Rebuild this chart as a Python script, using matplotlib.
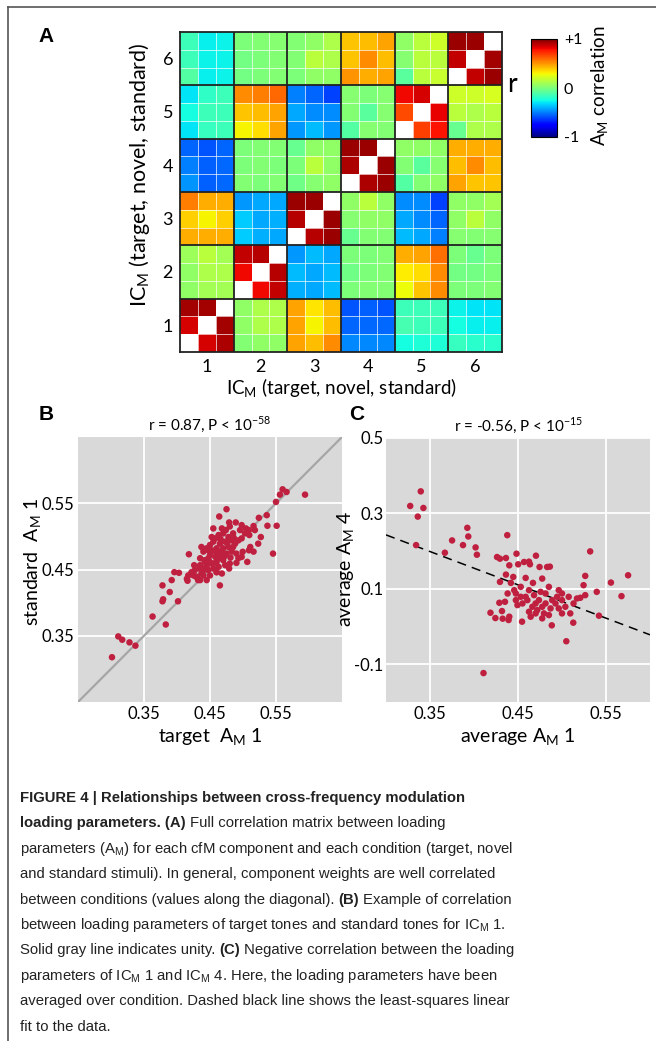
import numpy as np
import matplotlib
matplotlib.use('Agg')
import matplotlib.pyplot as plt
from matplotlib.lines import Line2D

plt.rcParams['font.family'] = ['Lato', 'DejaVu Sans']

nan = np.nan

# correlation matrix, rows listed top (IC 6) to bottom (IC 1), 3 conditions per IC
corr_rows = [
    [-0.15, -0.28, -0.27, 0.00, 0.02, 0.03, 0.02, 0.05, 0.12, 0.40, 0.42, 0.47, 0.05, 0.15, 0.20, 0.95, 0.95, nan],
    [-0.15, -0.27, -0.27, -0.02, 0.00, 0.02, 0.02, 0.15, 0.12, 0.40, 0.52, 0.42, 0.03, 0.15, 0.15, 0.88, nan, 0.93],
    [-0.10, -0.28, -0.27, -0.02, 0.00, 0.02, 0.00, 0.05, 0.05, 0.50, 0.45, 0.47, -0.08, 0.15, 0.18, nan, 0.88, 0.95],
    [-0.30, -0.18, -0.15, 0.52, 0.55, 0.60, -0.50, -0.55, -0.62, 0.03, 0.00, 0.03, 0.80, 0.85, nan, 0.20, 0.20, 0.22],
    [-0.25, -0.15, -0.15, 0.40, 0.42, 0.47, -0.42, -0.47, -0.47, 0.02, -0.08, 0.03, 0.66, nan, 0.82, 0.15, 0.12, 0.15],
    [-0.30, -0.17, -0.15, 0.30, 0.35, 0.47, -0.45, -0.38, -0.45, -0.10, 0.03, 0.02, nan, 0.68, 0.78, -0.05, 0.12, 0.12],
    [-0.55, -0.58, -0.55, 0.00, 0.02, 0.02, -0.05, 0.05, 0.05, 0.95, 0.95, nan, 0.05, 0.05, 0.05, 0.45, 0.45, 0.45],
    [-0.50, -0.56, -0.54, 0.00, 0.02, 0.00, 0.00, 0.15, 0.05, 0.92, nan, 0.95, 0.02, -0.08, 0.03, 0.42, 0.52, 0.42],
    [-0.46, -0.56, -0.54, 0.02, 0.00, 0.02, -0.03, 0.03, 0.05, nan, 0.92, 0.95, -0.10, 0.02, 0.05, 0.47, 0.40, 0.40],
    [0.55, 0.45, 0.45, -0.45, -0.42, -0.42, 0.95, 0.95, nan, 0.05, 0.15, 0.05, -0.47, -0.47, -0.62, 0.05, 0.05, 0.10],
    [0.38, 0.30, 0.38, -0.35, -0.42, -0.40, 0.90, nan, 0.95, 0.03, 0.05, 0.05, -0.42, -0.47, -0.55, 0.05, 0.15, 0.05],
    [0.45, 0.45, 0.45, -0.35, -0.40, -0.42, nan, 0.90, 0.95, -0.05, 0.02, 0.02, -0.38, -0.42, -0.50, 0.03, 0.02, 0.03],
    [0.08, 0.15, 0.10, 0.88, 0.90, nan, -0.45, -0.38, -0.42, 0.00, 0.00, 0.02, 0.45, 0.47, 0.58, 0.00, -0.05, 0.00],
    [0.05, 0.12, 0.12, 0.80, nan, 0.90, -0.38, -0.42, -0.38, -0.03, 0.00, 0.02, 0.32, 0.35, 0.52, -0.02, -0.02, 0.00],
    [0.05, 0.10, 0.10, nan, 0.80, 0.88, -0.40, -0.42, -0.38, 0.00, 0.02, 0.02, 0.28, 0.40, 0.52, 0.00, 0.00, 0.02],
    [0.93, 0.93, nan, 0.05, 0.12, 0.12, 0.47, 0.33, 0.42, -0.58, -0.56, -0.58, -0.15, -0.15, -0.15, -0.27, -0.30, -0.30],
    [0.85, nan, 0.93, 0.05, 0.12, 0.12, 0.47, 0.30, 0.42, -0.55, -0.54, -0.54, -0.13, -0.15, -0.15, -0.25, -0.28, -0.28],
    [nan, 0.85, 0.92, 0.02, 0.05, 0.05, 0.47, 0.42, 0.52, -0.48, -0.48, -0.48, -0.25, -0.22, -0.22, -0.17, -0.20, -0.20],
]
ic_labels = ['1', '2', '3', '4', '5', '6']

# panel B: target vs standard loading of IC 1
b_target = [0.3015, 0.311, 0.317, 0.328, 0.337, 0.363, 0.383, 0.378, 0.379, 0.4015,
            0.389, 0.378, 0.392, 0.396, 0.403, 0.418, 0.465, 0.415, 0.416, 0.422,
            0.425, 0.429, 0.432, 0.426, 0.434, 0.437, 0.440, 0.445, 0.442, 0.435,
            0.450, 0.455, 0.460, 0.468, 0.4475, 0.560, 0.566, 0.556, 0.550, 0.594,
            0.475, 0.464, 0.524, 0.536, 0.537, 0.551, 0.5455, 0.527, 0.523, 0.516,
            0.5065, 0.479, 0.489, 0.498, 0.5045, 0.509, 0.516, 0.518, 0.5095, 0.503,
            0.4955, 0.498, 0.511, 0.509, 0.4995, 0.490, 0.490, 0.480, 0.479, 0.417,
            0.458, 0.463, 0.470, 0.478, 0.483, 0.473, 0.465, 0.455, 0.450, 0.445,
            0.440, 0.4525, 0.460, 0.470, 0.478, 0.485, 0.483, 0.475, 0.465, 0.458,
            0.4475, 0.442, 0.4525, 0.460, 0.470, 0.473, 0.463, 0.455, 0.4475, 0.440,
            0.435, 0.450, 0.460, 0.440, 0.430, 0.427, 0.422, 0.435, 0.445, 0.437,
            0.4525, 0.493, 0.488, 0.468, 0.480, 0.485, 0.474, 0.493, 0.498, 0.455,
            0.468, 0.476, 0.462, 0.486, 0.472, 0.457, 0.481, 0.466, 0.449, 0.463]
b_standard = [0.3176, 0.349, 0.344, 0.340, 0.335, 0.379, 0.367, 0.402, 0.405, 0.402,
              0.416, 0.426, 0.434, 0.446, 0.445, 0.473, 0.426, 0.436, 0.433, 0.446,
              0.441, 0.439, 0.434, 0.4565, 0.4515, 0.444, 0.449, 0.455, 0.464, 0.467,
              0.472, 0.459, 0.446, 0.444, 0.479, 0.571, 0.567, 0.563, 0.552, 0.563,
              0.541, 0.530, 0.528, 0.532, 0.516, 0.516, 0.474, 0.499, 0.489, 0.477,
              0.4615, 0.521, 0.521, 0.517, 0.512, 0.5095, 0.5156, 0.5095, 0.502, 0.5045,
              0.5095, 0.497, 0.484, 0.479, 0.4767, 0.474, 0.460, 0.459, 0.4515, 0.441,
              0.497, 0.502, 0.5045, 0.499, 0.494, 0.492, 0.489, 0.492, 0.487, 0.482,
              0.477, 0.479, 0.482, 0.482, 0.484, 0.484, 0.477, 0.474, 0.472, 0.469,
              0.467, 0.4615, 0.459, 0.4615, 0.464, 0.4565, 0.454, 0.4515, 0.449, 0.4515,
              0.4565, 0.441, 0.446, 0.441, 0.439, 0.449, 0.444, 0.434, 0.434, 0.484,
              0.499, 0.494, 0.489, 0.512, 0.515, 0.5045, 0.5095, 0.467, 0.469, 0.512,
              0.478, 0.490, 0.476, 0.498, 0.470, 0.478, 0.468, 0.496, 0.462, 0.467]

# panel C: average loading IC 1 vs IC 4
c_avg1 = [0.3275, 0.3395, 0.3361, 0.3425, 0.3342, 0.3669, 0.3751, 0.3875, 0.3924, 0.3935,
          0.4018, 0.4033, 0.4378, 0.4262, 0.4295, 0.4363, 0.4483, 0.4704, 0.4862, 0.532,
          0.5264, 0.5245, 0.5264, 0.5208, 0.5395, 0.5556, 0.5676, 0.5751, 0.542, 0.5128,
          0.5049, 0.4884, 0.4546, 0.4108, 0.4187, 0.4243, 0.4318, 0.4326, 0.4401, 0.4393,
          0.4288, 0.4352, 0.4382, 0.4419, 0.4446, 0.4363, 0.4295, 0.4401, 0.4502, 0.4569,
          0.4625, 0.4636, 0.4745, 0.4831, 0.4775, 0.467, 0.4587, 0.4531, 0.4476, 0.4476,
          0.4551, 0.4625, 0.47, 0.4738, 0.4813, 0.4851, 0.4963, 0.50, 0.5038, 0.5094,
          0.5131, 0.5076, 0.4926, 0.487, 0.4795, 0.4851, 0.4663, 0.4607, 0.4682, 0.4757,
          0.4625, 0.4587, 0.4775, 0.47, 0.4944, 0.50, 0.4813, 0.4888, 0.4719, 0.4644,
          0.4775, 0.4531, 0.4494, 0.4457, 0.4963, 0.50, 0.517]
c_avg4 = [0.3198, 0.3585, 0.2916, 0.3145, 0.216, 0.1958, 0.2284, 0.216, 0.2618, 0.2389,
          0.2099, 0.1905, 0.2424, 0.1844, 0.18, 0.1818, 0.1932, 0.1879, 0.1589, 0.1993,
          0.1343, 0.1097, 0.0833, 0.0763, 0.0921, 0.1167, 0.0807, 0.136, 0.0288, 0.0103,
          -0.0389, 0.0033, 0.013, -0.1233, 0.0367, 0.0226, 0.0411, 0.0209, 0.0262, 0.0174,
          0.0631, 0.0657, 0.0877, 0.1158, 0.1316, 0.1378, 0.1185, 0.1624, 0.1651, 0.1712,
          0.1721, 0.1651, 0.158, 0.158, 0.1272, 0.1158, 0.129, 0.1053, 0.0877, 0.0701,
          0.0613, 0.0393, 0.0349, 0.0701, 0.0877, 0.1053, 0.0965, 0.0701, 0.0525, 0.0349,
          0.0613, 0.0789, 0.0613, 0.0481, 0.0349, 0.0305, 0.0525, 0.0701, 0.0833, 0.0921,
          0.0965, 0.0789, 0.0525, 0.0613, 0.0789, 0.0877, 0.0613, 0.0701, 0.0437, 0.0262,
          0.0218, 0.0789, 0.0569, 0.0965, 0.0481, 0.0349, 0.0745]
# least-squares line as drawn in panel C
fit_slope = -0.883
fit_intercept = 0.508

caption_lines = [
    [('FIGURE 4 | Relationships between cross-frequency modulation', 'bold')],
    [('loading parameters. (A)', 'bold'), ('Full correlation matrix between loading', 'normal')],
    [('parameters (A$_\\mathregular{M}$) for each cfM component and each condition (target, novel', 'normal')],
    [('and standard stimuli). In general, component weights are well correlated', 'normal')],
    [('between conditions (values along the diagonal).', 'normal'), ('(B)', 'bold'),
     ('Example of correlation', 'normal')],
    [('between loading parameters of target tones and standard tones for IC$_\\mathregular{M}$ 1.', 'normal')],
    [('Solid gray line indicates unity.', 'normal'), ('(C)', 'bold'),
     ('Negative correlation between the loading', 'normal')],
    [('parameters of IC$_\\mathregular{M}$ 1 and IC$_\\mathregular{M}$ 4. Here, the loading parameters have been', 'normal')],
    [('averaged over condition. Dashed black line shows the least-squares linear', 'normal')],
    [('fit to the data.', 'normal')],
]

W, H = 656, 1041
fig = plt.figure(figsize=(W / 100, H / 100), dpi=100)


def box(x0, y0, x1, y1):
    # pixel box (top-left origin) -> figure fraction rect
    return [x0 / W, 1 - y1 / H, (x1 - x0) / W, (y1 - y0) / H]


# outer frame (top and left edges)
fig.add_artist(Line2D([8 / W, 1], [1 - 7 / H, 1 - 7 / H], color='#555555', lw=1.2))
fig.add_artist(Line2D([8 / W, 8 / W], [0, 1 - 7 / H], color='#555555', lw=1.2))

# ---- panel A ----
mat = np.array(corr_rows)
cmap = plt.get_cmap('jet').copy()
cmap.set_bad('white')
axA = fig.add_axes(box(180, 32, 502, 352))
im = axA.imshow(np.ma.masked_invalid(mat), cmap=cmap, vmin=-1, vmax=1,
                interpolation='nearest', aspect='auto')
n = mat.shape[0]
for k in range(1, n):
    if k % 3:
        axA.axhline(k - 0.5, color='white', lw=0.6, alpha=0.8)
        axA.axvline(k - 0.5, color='white', lw=0.6, alpha=0.8)
for k in range(3, n, 3):
    axA.axhline(k - 0.5, color='#222222', lw=1.3)
    axA.axvline(k - 0.5, color='#222222', lw=1.3)
for s in axA.spines.values():
    s.set_color('#222222')
    s.set_linewidth(1.3)
centers = np.arange(1, n, 3)
axA.set_xticks(centers)
axA.set_xticklabels(ic_labels, fontsize=13)
axA.set_yticks(centers)
axA.set_yticklabels(ic_labels[::-1], fontsize=13)
axA.tick_params(length=0, pad=5)
axA.set_xlabel('IC$_\\mathregular{M}$ (target, novel, standard)', fontsize=13.5, labelpad=1)
axA.set_ylabel('IC$_\\mathregular{M}$ (target, novel, standard)', fontsize=15.5)
axA.yaxis.set_label_coords(-0.088, 0.553)

cax = fig.add_axes(box(531, 39, 557, 137))
cb = fig.colorbar(im, cax=cax, ticks=[-1, 0, 1])
cb.ax.set_yticklabels(['-1', '0', '+1'], fontsize=11.5)
cb.ax.tick_params(length=0, pad=5)
cb.outline.set_linewidth(0.8)
fig.text(512 / W, 1 - 85 / H, 'r', fontsize=19, ha='center', va='center')
fig.text(600 / W, 1 - 86 / H, 'A$_\\mathregular{M}$ correlation', fontsize=13.5,
         rotation=90, ha='center', va='center')

gray_bg = '#d9d9d9'
dot = '#c0203f'


def style_scatter(ax):
    ax.set_facecolor(gray_bg)
    for s in ax.spines.values():
        s.set_visible(False)
    ax.grid(True, color='white', lw=1.3)
    ax.set_axisbelow(True)
    ax.tick_params(length=0, pad=3, labelsize=12)


# ---- panel B ----
axB = fig.add_axes(box(78, 437, 342, 702))
style_scatter(axB)
axB.plot([0.25, 0.65], [0.25, 0.65], color='#a6a6a6', lw=1.6, zorder=2)
axB.scatter(b_target, b_standard, s=22, color=dot, edgecolors='none', zorder=3)
axB.set_xlim(0.25, 0.65)
axB.set_ylim(0.25, 0.65)
axB.set_xticks([0.35, 0.45, 0.55])
axB.set_yticks([0.35, 0.45, 0.55])
axB.set_xticklabels(['0.35', '0.45', '0.55'])
axB.set_yticklabels(['0.35', '0.45', '0.55'])
axB.set_xlabel('target  A$_\\mathregular{M}$ 1', fontsize=14, labelpad=3)
axB.set_ylabel('standard  A$_\\mathregular{M}$ 1', fontsize=14)
axB.yaxis.set_label_coords(-0.13, 0.528)
axB.set_title('r = 0.87, P < 10$^{\\mathregular{-58}}$', fontsize=11, pad=5)

# ---- panel C ----
axC = fig.add_axes(box(386, 438, 650, 702))
style_scatter(axC)
xs = np.array([0.3, 0.6])
axC.plot(xs, fit_intercept + fit_slope * xs, color='black', lw=1.1,
         dashes=(6, 4), zorder=2)
axC.scatter(c_avg1, c_avg4, s=22, color=dot, edgecolors='none', zorder=3)
axC.set_xlim(0.3, 0.6)
axC.set_ylim(-0.2, 0.5)
axC.set_xticks([0.35, 0.45, 0.55])
axC.set_xticklabels(['0.35', '0.45', '0.55'])
axC.set_yticks([-0.1, 0.1, 0.3, 0.5])
axC.set_yticklabels(['-0.1', '0.1', '0.3', '0.5'])
axC.tick_params(axis='y', pad=2)
axC.set_xlabel('average A$_\\mathregular{M}$ 1', fontsize=14, labelpad=3)
axC.set_ylabel('average A$_\\mathregular{M}$ 4', fontsize=14)
axC.yaxis.set_label_coords(-0.108, 0.506)
axC.set_title('r = -0.56, P < 10$^{\\mathregular{-15}}$', fontsize=11, pad=5)

# panel letters
for letter, (px, py) in zip('ABC', [(46, 37), (46, 415), (357, 415)]):
    fig.text(px / W, 1 - py / H, letter, fontsize=15, fontweight='bold',
             family='Liberation Sans', ha='center', va='center')

# ---- caption ----
cap_family = ['Liberation Sans Narrow', 'Liberation Sans']
cap_size = 10.7
renderer = fig.canvas.get_renderer()
probe1 = fig.text(0, 0, 'x x', fontsize=cap_size, family=cap_family)
probe2 = fig.text(0, 0, 'xx', fontsize=cap_size, family=cap_family)
space_w = probe1.get_window_extent(renderer).width - probe2.get_window_extent(renderer).width
probe1.remove()
probe2.remove()

y0 = 802
for i, segs in enumerate(caption_lines):
    x = 20
    y = y0 + 25.4 * i
    for j, (txt, weight) in enumerate(segs):
        if j > 0:
            x += space_w
        t = fig.text(x / W, 1 - y / H, txt, fontsize=cap_size, fontweight=weight,
                     family=cap_family, ha='left', va='baseline', color='#222222')
        x += t.get_window_extent(renderer).width

fig.savefig('out.png', dpi=100)
